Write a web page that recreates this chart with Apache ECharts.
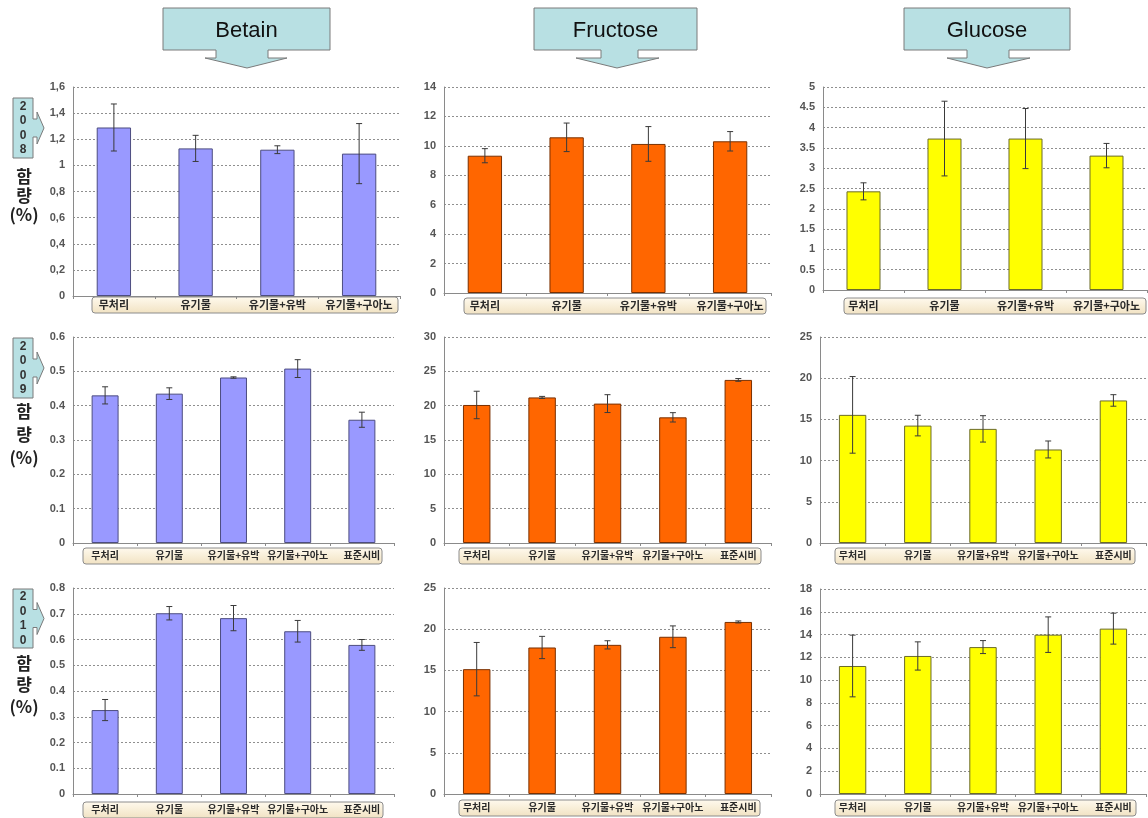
<!DOCTYPE html>
<html>
<head>
<meta charset="utf-8">
<style>
html,body{margin:0;padding:0;background:#fff;}
#chart{width:1148px;height:818px;}
</style>
<script src="https://cdn.jsdelivr.net/npm/echarts@6/dist/echarts.min.js"></script>
</head>
<body>
<div id="chart"></div>
<script>
// ---- data ----
const cats4 = ['무처리', '유기물', '유기물+유박', '유기물+구아노'];
const cats5 = ['무처리', '유기물', '유기물+유박', '유기물+구아노', '표준시비'];
const headers = ['Betain', 'Fructose', 'Glucose'];
const years = ['2008', '2009', '2010'];

const betain2008 = [1.29, 1.13, 1.12, 1.09];
const betain2008Err = [0.18, 0.10, 0.03, 0.23];
const betain2009 = [0.430, 0.435, 0.482, 0.508, 0.359];
const betain2009Err = [0.025, 0.017, 0.002, 0.026, 0.022];
const betain2010 = [0.326, 0.702, 0.683, 0.632, 0.579];
const betain2010Err = [0.041, 0.026, 0.049, 0.042, 0.021];

const fructose2008 = [9.33, 10.58, 10.13, 10.31];
const fructose2008Err = [0.48, 0.97, 1.18, 0.66];
const fructose2009 = [20.1, 21.2, 20.3, 18.3, 23.75];
const fructose2009Err = [2.0, 0.15, 1.3, 0.68, 0.2];
const fructose2010 = [15.15, 17.78, 18.1, 19.08, 20.88];
const fructose2010Err = [3.24, 1.35, 0.5, 1.32, 0.12];

const glucose2008 = [2.43, 3.73, 3.73, 3.31];
const glucose2008Err = [0.21, 0.92, 0.74, 0.30];
const glucose2009 = [15.55, 14.25, 13.85, 11.35, 17.3];
const glucose2009Err = [4.65, 1.25, 1.6, 1.03, 0.7];
const glucose2010 = [11.24, 12.12, 12.9, 13.99, 14.52];
const glucose2010Err = [2.71, 1.24, 0.57, 1.56, 1.36];

// y-axis ranges [max, interval]
const yMax = [1.6, 14, 5, 0.6, 30, 25, 0.8, 25, 18];
const yStep = [0.2, 2, 0.5, 0.1, 5, 5, 0.1, 5, 2];

// ---- styles / layout ----
const styles = {
  Betain: {fill: '#9999ff', border: '#4d4d80'},
  Fructose: {fill: '#ff6600', border: '#7a3000'},
  Glucose: {fill: '#ffff00', border: '#6b6b2a'}
};
const panels = [
  {name:'Betain', cats:cats4, vals:betain2008, errs:betain2008Err, grid:[73,87,327,209], box:[92,297,306,16], margin:3, comma:true, fs:11},
  {name:'Fructose', cats:cats4, vals:fructose2008, errs:fructose2008Err, grid:[444,87,327,206], box:[464,298,302,16], margin:7, fs:11},
  {name:'Glucose', cats:cats4, vals:glucose2008, errs:glucose2008Err, grid:[823,87,324,203], box:[844,298,302,16], margin:10, fs:11},
  {name:'Betain', cats:cats5, vals:betain2009, errs:betain2009Err, grid:[73,337,321,206], box:[83,548,299,16], margin:7, fs:10},
  {name:'Fructose', cats:cats5, vals:fructose2009, errs:fructose2009Err, grid:[444,337,327,206], box:[459,548,302,16], margin:7, fs:10},
  {name:'Glucose', cats:cats5, vals:glucose2009, errs:glucose2009Err, grid:[820,337,326,206], box:[835,548,300,16], margin:7, fs:10},
  {name:'Betain', cats:cats5, vals:betain2010, errs:betain2010Err, grid:[73,588,321,206], box:[83,802,300,16], margin:10, fs:10},
  {name:'Fructose', cats:cats5, vals:fructose2010, errs:fructose2010Err, grid:[444,588,327,206], box:[459,800,301,16], margin:8, fs:10},
  {name:'Glucose', cats:cats5, vals:glucose2010, errs:glucose2010Err, grid:[820,589,326,205], box:[835,800,301,16], margin:8, fs:10}
];
const headerShapes = [
  {x0:163, x1:330, s0:216, s1:268, w0:205, w1:287, tip:247},
  {x0:534, x1:697, s0:601, s1:638, w0:576, w1:659, tip:617},
  {x0:904, x1:1070, s0:967, s1:1009, w0:947, w1:1030, tip:987}
];
const yearBoxes = [
  {y0:98, y1:158, hamY:177, ryangY:196, pctY:215},
  {y0:338, y1:398, hamY:412, ryangY:435, pctY:458},
  {y0:589, y1:648, hamY:664, ryangY:685, pctY:707}
];

const KR = '"Noto Sans CJK KR", "Noto Sans", sans-serif';
const LAT = '"Liberation Sans", Arial, sans-serif';

const grid = [], xAxis = [], yAxis = [], series = [], graphic = [];

panels.forEach((p, i) => {
  const st = styles[p.name];
  grid.push({left:p.grid[0], top:p.grid[1], width:p.grid[2], height:p.grid[3], containLabel:false});
  xAxis.push({
    type:'category', gridIndex:i, data:p.cats,
    axisLine:{show:true, lineStyle:{color:'#8a8a8a', width:1}},
    axisTick:{show:true, length:3, interval:0, lineStyle:{color:'#8a8a8a'}},
    axisLabel:{interval:0, hideOverlap:false, margin:p.margin, fontFamily:KR, fontWeight:'bold', fontSize:p.fs, color:'#2a2a2a'},
    splitLine:{show:false}
  });
  yAxis.push({
    type:'value', gridIndex:i, min:0, max:yMax[i], interval:yStep[i],
    axisLine:{show:true, lineStyle:{color:'#8a8a8a', width:1}},
    axisTick:{show:false},
    axisLabel:{margin:8, fontFamily:LAT, fontWeight:'bold', fontSize:11, color:'#555',
      formatter: p.comma ? (v => String(+v.toFixed(2)).replace('.', ',')) : (v => String(+v.toFixed(2)))},
    splitLine:{show:true, lineStyle:{color:'#8f8f8f', type:[2,2], width:1}}
  });
  series.push({
    type:'bar', xAxisIndex:i, yAxisIndex:i, data:p.vals, barWidth:'42%',
    itemStyle:{color:st.fill, borderColor:st.border, borderWidth:1},
    silent:true, z:2
  });
  series.push({
    type:'custom', xAxisIndex:i, yAxisIndex:i, z:5, silent:true,
    data:p.vals.map((v, k) => [k, v - p.errs[k], v + p.errs[k]]),
    encode:{x:0, y:[1,2]},
    renderItem:(params, api) => {
      const lo = api.coord([api.value(0), api.value(1)]);
      const hi = api.coord([api.value(0), api.value(2)]);
      const c = 3;
      const ls = {stroke:'#3a3a3a', lineWidth:1};
      return {type:'group', children:[
        {type:'line', shape:{x1:lo[0], y1:lo[1], x2:hi[0], y2:hi[1]}, style:ls},
        {type:'line', shape:{x1:hi[0]-c, y1:hi[1], x2:hi[0]+c, y2:hi[1]}, style:ls},
        {type:'line', shape:{x1:lo[0]-c, y1:lo[1], x2:lo[0]+c, y2:lo[1]}, style:ls}
      ]};
    }
  });
  graphic.push({
    type:'rect', z:-10, silent:true,
    shape:{x:p.box[0], y:p.box[1], width:p.box[2], height:p.box[3], r:3},
    style:{fill:{type:'linear', x:0, y:0, x2:0, y2:1, colorStops:[{offset:0, color:'#fffaee'},{offset:1, color:'#f1e2c2'}]},
      stroke:'#8c8c8c', lineWidth:1}
  });
});

headers.forEach((h, i) => {
  const s = headerShapes[i];
  const y0 = 8, yb = 50, yw = 58, yt = 68;
  graphic.push({
    type:'polygon', silent:true,
    shape:{points:[[s.x0,y0],[s.x1,y0],[s.x1,yb],[s.s1,yb],[s.s1,yw],[s.w1,yw],[s.tip,yt],[s.w0,yw],[s.s0,yw],[s.s0,yb],[s.x0,yb]]},
    style:{fill:'#b8e0e3', stroke:'#7a7a7a', lineWidth:1}
  });
  graphic.push({
    type:'text', silent:true, x:(s.x0 + s.x1) / 2, y:31,
    style:{text:h, fill:'#111', font:'22px ' + LAT, textAlign:'center', textVerticalAlign:'middle'}
  });
});

years.forEach((yr, i) => {
  const b = yearBoxes[i];
  const m = (b.y0 + b.y1) / 2;
  graphic.push({
    type:'polygon', silent:true,
    shape:{points:[[13,b.y0],[33,b.y0],[33,m-9],[37,m-9],[37,m-16],[44,m],[37,m+16],[37,m+9],[33,m+9],[33,b.y1],[13,b.y1]]},
    style:{fill:'#b8e0e3', stroke:'#7a7a7a', lineWidth:1}
  });
  graphic.push({
    type:'text', silent:true, x:23, y:m,
    style:{text:yr.split('').join('\n'), fill:'#333', font:'bold 12px ' + LAT, lineHeight:14.5, textAlign:'center', textVerticalAlign:'middle'}
  });
  [['함', b.hamY], ['량', b.ryangY], ['(%)', b.pctY]].forEach(t => {
    graphic.push({
      type:'text', silent:true, x:24, y:t[1],
      style:{text:t[0], fill:'#222', font:'bold 17px ' + KR, textAlign:'center', textVerticalAlign:'middle'}
    });
  });
});

const chart = echarts.init(document.getElementById('chart'), null, {renderer:'canvas'});
chart.setOption({
  animation:false,
  backgroundColor:'#ffffff',
  grid, xAxis, yAxis, series, graphic
});
</script>
</body>
</html>
